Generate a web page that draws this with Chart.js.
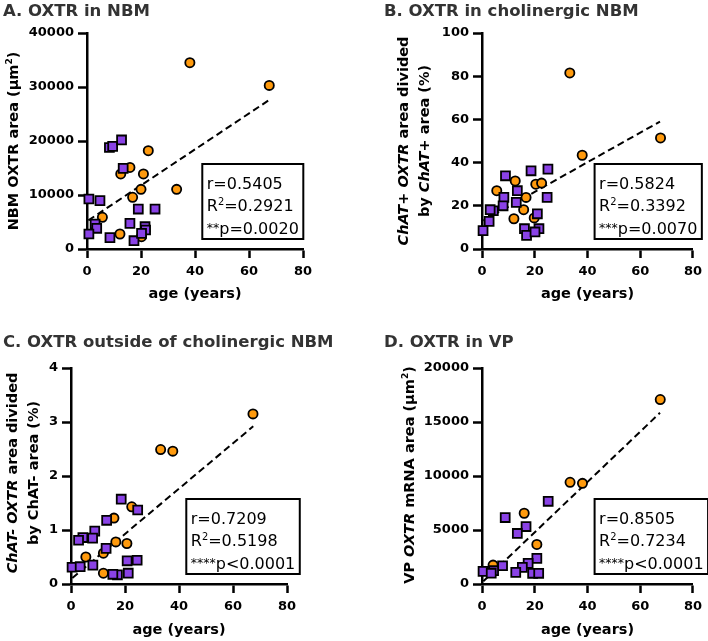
<!DOCTYPE html>
<html>
<head>
<meta charset="utf-8">
<script src="https://cdn.jsdelivr.net/npm/chart.js@4.4.1/dist/chart.umd.min.js"></script>
<style>
  html, body { margin: 0; padding: 0; background: #fff; }
  #wrap { position: relative; width: 708px; height: 641px; }
  #wrap canvas { position: absolute; }
</style>
</head>
<body>
<div id="wrap">
  <canvas id="panelA" width="354" height="320" style="left:0;top:0"></canvas>
  <canvas id="panelB" width="354" height="320" style="left:354px;top:0"></canvas>
  <canvas id="panelC" width="354" height="321" style="left:0;top:320px"></canvas>
  <canvas id="panelD" width="354" height="321" style="left:354px;top:320px"></canvas>
</div>
<script>
// ---- data ----
const xTicks = [0, 20, 40, 60, 80];

// A. OXTR in NBM
const ticksA = [0, 10000, 20000, 30000, 40000];
const ageOrangeA = [38.1, 67.5, 22.7, 15.9, 12.5, 20.9, 33.2, 20.0, 16.9, 5.7, 12.2, 20.2];
const nbmOrangeA = [34500, 30300, 18200, 15100, 13900, 13900, 11050, 11050, 9570, 5870, 2780, 2280];
const agePurpleA = [8.3, 9.5, 12.8, 13.4, 0.7, 4.8, 19.0, 25.2, 15.9, 3.0, 3.6, 0.7, 8.5, 17.4, 21.5, 21.7, 20.2];
const nbmPurpleA = [18800, 19000, 20190, 14940, 9260, 8950, 7400, 7400, 4750, 4630, 3830, 2780, 2100, 1540, 4130, 3520, 2900];
const fitAgeA = [0.5, 67.5];
const fitA = [5300, 27600];
const statsA = ['0.5405', '0.2921', '**', 'p=0.0020'];

// B. OXTR in cholinergic NBM
const ticksB = [0, 20, 40, 60, 80, 100];
const ageOrangeB = [33.3, 38.0, 67.7, 5.6, 12.6, 20.4, 22.6, 16.7, 15.8, 12.1, 19.8];
const pctOrangeB = [81.5, 43.4, 51.4, 27.0, 31.5, 30.0, 30.5, 23.9, 18.2, 14.0, 14.4];
const agePurpleB = [8.9, 18.6, 25.0, 24.7, 8.3, 8.0, 13.4, 13.0, 4.3, 3.1, 2.7, 0.4, 16.1, 16.9, 21.0, 21.6, 20.1];
const pctPurpleB = [33.9, 36.2, 37.0, 23.9, 23.9, 20.0, 27.0, 21.6, 17.7, 18.2, 12.8, 8.5, 9.4, 6.3, 16.3, 9.4, 7.9];
const fitAgeB = [0.5, 67.5];
const fitB = [13.1, 59.0];
const statsB = ['0.5824', '0.3392', '***', 'p=0.0070'];

// C. OXTR outside of cholinergic NBM
const ticksC = [0, 1, 2, 3, 4];
const ageOrangeC = [67.4, 33.2, 37.7, 22.5, 15.9, 16.6, 20.7, 12.0, 5.5, 12.0];
const pctOrangeC = [3.15, 2.49, 2.46, 1.43, 1.22, 0.78, 0.75, 0.57, 0.50, 0.20];
const agePurpleC = [18.6, 24.7, 13.2, 8.8, 8.0, 4.4, 2.8, 13.0, 0.4, 3.4, 8.1, 20.8, 24.5, 17.2, 15.5, 21.2];
const pctPurpleC = [1.57, 1.37, 1.18, 0.98, 0.85, 0.86, 0.81, 0.66, 0.31, 0.32, 0.35, 0.43, 0.44, 0.17, 0.18, 0.20];
const fitAgeC = [0.5, 67.5];
const fitC = [0.11, 2.92];
const statsC = ['0.7209', '0.5198', '****', 'p<0.0001'];

// D. OXTR in VP
const ticksD = [0, 5000, 10000, 15000, 20000];
const ageOrangeD = [67.6, 33.4, 38.1, 16.0, 20.8, 4.2];
const vpOrangeD = [17080, 9415, 9320, 6550, 3660, 1750];
const agePurpleD = [25.1, 8.8, 16.7, 13.4, 20.8, 17.5, 15.3, 12.8, 19.2, 21.5, 7.8, 4.4, 0.4, 3.5];
const vpPurpleD = [7660, 6155, 5320, 4680, 2370, 1910, 1540, 1080, 990, 990, 1690, 1230, 1170, 1000];
const fitAgeD = [0.5, 67.5];
const fitD = [250, 15850];
const statsD = ['0.8505', '0.7234', '****', 'p<0.0001'];

// ---- drawing helpers ----
const ORANGE = '#FF9A0D';
const PURPLE = '#8A42E6';

function font(size, bold, italic) {
  return (italic ? 'italic ' : '') + (bold ? 'bold ' : '') + size + 'px "DejaVu Sans", sans-serif';
}

function segSize(s, size) {
  if (s.sup) return size * 0.62;
  if (s.small) return size * 0.78;
  return size;
}

function richWidth(ctx, segs, size, bold) {
  let w = 0;
  segs.forEach(s => {
    ctx.font = font(segSize(s, size), bold, s.i);
    w += ctx.measureText(s.t).width;
  });
  return w;
}

// draws text made of pieces (italic / superscript / small)
function drawRich(ctx, segs, x, y, size, bold, center) {
  let cx = center ? x - richWidth(ctx, segs, size, bold) / 2 : x;
  ctx.textAlign = 'left';
  ctx.textBaseline = 'alphabetic';
  segs.forEach(s => {
    ctx.font = font(segSize(s, size), bold, s.i);
    let dy = 0;
    if (s.sup) dy = -size * 0.4;
    if (s.small) dy = -size * 0.1;
    ctx.fillText(s.t, cx, y + dy);
    cx += ctx.measureText(s.t).width;
  });
}

const decorPlugin = {
  id: 'decor',
  afterDraw(chart, args, o) {
    const ctx = chart.ctx;
    const area = chart.chartArea;
    ctx.save();

    // panel title
    ctx.fillStyle = '#333';
    drawRich(ctx, [{ t: o.title }], o.titleX, o.titleY, 16.5, true, false);

    // axis titles
    ctx.fillStyle = '#000';
    drawRich(ctx, [{ t: 'age (years)' }], (area.left + area.right) / 2, o.xTitleY, 14.5, true, true);
    o.yTitle.forEach((segs, i) => {
      ctx.save();
      ctx.translate(o.yTitleX[i], o.yTitleY);
      ctx.rotate(-Math.PI / 2);
      drawRich(ctx, segs, 0, 5, 14.5, true, true);
      ctx.restore();
    });

    // statistics box
    const lines = [
      [{ t: 'r=' + o.stats[0] }],
      [{ t: 'R' }, { t: '2', sup: true }, { t: '=' + o.stats[1] }],
      [{ t: o.stats[2], small: true }, { t: o.stats[3] }]
    ];
    let w = 0;
    lines.forEach(l => { w = Math.max(w, richWidth(ctx, l, 16, false)); });
    const bx = chart.scales.x.getPixelForValue(42.7);
    const by = area.bottom - 85;
    ctx.fillStyle = '#fff';
    ctx.fillRect(bx, by, w + 9, 75);
    ctx.strokeStyle = '#000';
    ctx.lineWidth = 2;
    ctx.strokeRect(bx, by, w + 9, 75);
    ctx.fillStyle = '#000';
    [24.5, 47, 69.5].forEach((dy, i) => drawRich(ctx, lines[i], bx + 4.5, by + dy, 16, false, false));

    ctx.restore();
  }
};

function pts(xs, ys) {
  return xs.map((x, i) => ({ x: x, y: ys[i] }));
}

function axisStyle() {
  return {
    grid: { drawOnChartArea: false, drawTicks: true, tickLength: 9, tickWidth: 2.5, tickColor: '#000', color: '#000' },
    border: { display: true, width: 2.5, color: '#000' }
  };
}

function makePanel(id, cfg) {
  const canvas = document.getElementById(id);
  const W = canvas.width, H = canvas.height;
  const tickFont = { family: '"DejaVu Sans", sans-serif', weight: 'bold', size: 13 };

  new Chart(canvas, {
    type: 'scatter',
    data: {
      datasets: [
        {
          data: pts(cfg.purpleX, cfg.purpleY),
          pointStyle: 'rect',
          pointRadius: 6.3,
          borderWidth: 1.8,
          borderColor: '#000',
          backgroundColor: PURPLE,
          clip: false
        },
        {
          data: pts(cfg.orangeX, cfg.orangeY),
          pointStyle: 'circle',
          pointRadius: 4.6,
          borderWidth: 1.8,
          borderColor: '#000',
          backgroundColor: ORANGE,
          clip: false
        },
        {
          data: pts(cfg.fitX, cfg.fitY),
          showLine: true,
          borderColor: '#000',
          borderWidth: 2,
          borderDash: [7, 4],
          pointRadius: 0,
          clip: false
        }
      ]
    },
    options: {
      responsive: false,
      animation: false,
      events: [],
      layout: { padding: { left: 0, top: cfg.top, right: W - cfg.left - 216, bottom: 0 } },
      plugins: {
        legend: { display: false },
        tooltip: { enabled: false },
        decor: cfg.decor
      },
      scales: {
        x: Object.assign(axisStyle(), {
          type: 'linear',
          min: 0,
          max: 80,
          afterBuildTicks: s => { s.ticks = xTicks.map(v => ({ value: v })); },
          afterFit: s => { s.height = H - cfg.top - 216; },
          ticks: { font: tickFont, color: '#000', padding: 6, autoSkip: false, maxRotation: 0, callback: v => String(v) }
        }),
        y: Object.assign(axisStyle(), {
          type: 'linear',
          min: 0,
          max: cfg.yTicks[cfg.yTicks.length - 1],
          afterBuildTicks: s => { s.ticks = cfg.yTicks.map(v => ({ value: v })); },
          afterFit: s => { s.width = cfg.left; },
          ticks: { font: tickFont, color: '#000', padding: 4, autoSkip: false, callback: v => String(v) }
        })
      }
    },
    plugins: [decorPlugin]
  });
}

makePanel('panelA', {
  left: 87, top: 33, yTicks: ticksA,
  orangeX: ageOrangeA, orangeY: nbmOrangeA, purpleX: agePurpleA, purpleY: nbmPurpleA,
  fitX: fitAgeA, fitY: fitA,
  decor: {
    title: 'A. OXTR in NBM', titleX: 3, titleY: 16, xTitleY: 298,
    yTitleX: [13], yTitleY: 141,
    yTitle: [[{ t: 'NBM OXTR area (µm' }, { t: '2', sup: true }, { t: ')' }]],
    stats: statsA
  }
});

makePanel('panelB', {
  left: 128, top: 33, yTicks: ticksB,
  orangeX: ageOrangeB, orangeY: pctOrangeB, purpleX: agePurpleB, purpleY: pctPurpleB,
  fitX: fitAgeB, fitY: fitB,
  decor: {
    title: 'B. OXTR in cholinergic NBM', titleX: 30, titleY: 16, xTitleY: 298,
    yTitleX: [49, 70], yTitleY: 141,
    yTitle: [
      [{ t: 'ChAT+ OXTR', i: true }, { t: ' area divided' }],
      [{ t: 'by ' }, { t: 'ChAT+', i: true }, { t: ' area (%)' }]
    ],
    stats: statsB
  }
});

makePanel('panelC', {
  left: 71, top: 48, yTicks: ticksC,
  orangeX: ageOrangeC, orangeY: pctOrangeC, purpleX: agePurpleC, purpleY: pctPurpleC,
  fitX: fitAgeC, fitY: fitC,
  decor: {
    title: 'C. OXTR outside of cholinergic NBM', titleX: 3, titleY: 27, xTitleY: 314,
    yTitleX: [12, 33], yTitleY: 153,
    yTitle: [
      [{ t: 'ChAT- OXTR', i: true }, { t: ' area divided' }],
      [{ t: 'by ChAT- area (%)' }]
    ],
    stats: statsC
  }
});

makePanel('panelD', {
  left: 128, top: 48, yTicks: ticksD,
  orangeX: ageOrangeD, orangeY: vpOrangeD, purpleX: agePurpleD, purpleY: vpPurpleD,
  fitX: fitAgeD, fitY: fitD,
  decor: {
    title: 'D. OXTR in VP', titleX: 30, titleY: 27, xTitleY: 314,
    yTitleX: [55], yTitleY: 155,
    yTitle: [[{ t: 'VP ' }, { t: 'OXTR', i: true }, { t: ' mRNA area (µm' }, { t: '2', sup: true }, { t: ')' }]],
    stats: statsD
  }
});
</script>
</body>
</html>
